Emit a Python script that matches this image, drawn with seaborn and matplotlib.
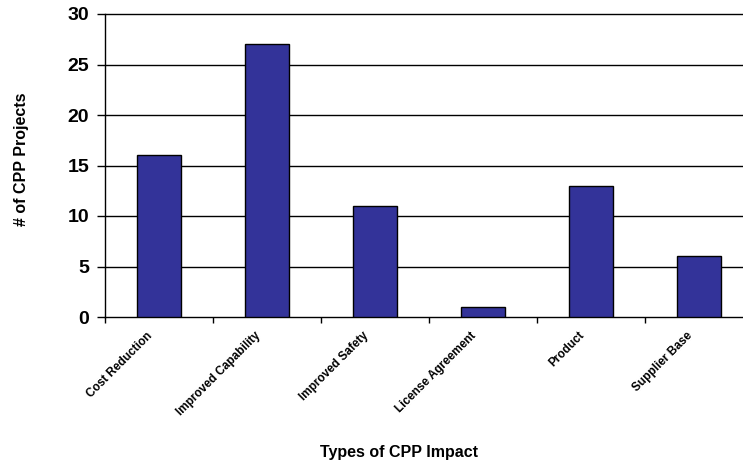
import matplotlib
matplotlib.use("Agg")
import matplotlib.pyplot as plt
import seaborn as sns
import pandas as pd

categories = ["Cost Reduction", "Improved Capability", "Improved Safety",
              "License Agreement", "Product", "Supplier Base"]
projects = [16, 27, 11, 1, 13, 6]
y_ticks = [0, 5, 10, 15, 20, 25, 30]

df = pd.DataFrame({"impact": categories, "count": projects})

sns.set_theme(style="white")
plt.rcParams["font.family"] = ["Liberation Sans", "DejaVu Sans"]
for key in ["text.color", "axes.labelcolor", "xtick.color", "ytick.color"]:
    plt.rcParams[key] = "black"

W, H = 743, 466
fig = plt.figure(figsize=(W / 100, H / 100), dpi=100)
left, right, top, bottom = 105, 753, 14, 317
ax = fig.add_axes([left / W, 1 - bottom / H, (right - left) / W, (bottom - top) / H])

sns.barplot(data=df, x="impact", y="count", ax=ax, color="#333399",
            saturation=1, width=0.41, edgecolor="black", linewidth=1, zorder=3)

ax.set_ylim(0, 30)
ax.set_xlim(-0.5, 5.5)
ax.set_yticks(y_ticks)
ax.set_yticklabels([str(v) for v in y_ticks], fontsize=14, fontweight="bold")
for v in y_ticks[1:]:
    ax.axhline(v, color="black", linewidth=1, zorder=1, clip_on=False)

# category boundaries carry the visible tick marks
ax.set_xticks([i - 0.5 for i in range(len(categories) + 1)], minor=True)
# rotated labels end slightly left of each bar centre
label_offset = 0.12
ax.set_xticks([i - label_offset for i in range(len(categories))])
ax.set_xticklabels(categories, rotation=45, ha="right", va="top",
                   rotation_mode="anchor", fontsize=8.5, fontweight="bold")
ax.tick_params(axis="x", which="major", length=0, pad=9)
ax.tick_params(axis="x", which="minor", length=4, width=1, color="black", direction="out")
ax.tick_params(axis="y", length=6, width=1, color="black", direction="out", pad=5.5)
ax.xaxis.set_tick_params(which="minor", bottom=True)
ax.yaxis.set_tick_params(left=True)

for s in ["top", "right"]:
    ax.spines[s].set_visible(False)
for s in ["left", "bottom"]:
    ax.spines[s].set_color("black")
    ax.spines[s].set_linewidth(1)

ax.set_xlabel("")
ax.set_ylabel("")
fig.text(399 / W, 1 - 453 / H, "Types of CPP Impact", ha="center", va="center",
         fontsize=11.5, fontweight="bold")
fig.text(22 / W, 1 - 159 / H, "# of CPP Projects", ha="center", va="center",
         rotation=90, fontsize=11.5, fontweight="bold")

fig.savefig("out.png", dpi=100)
